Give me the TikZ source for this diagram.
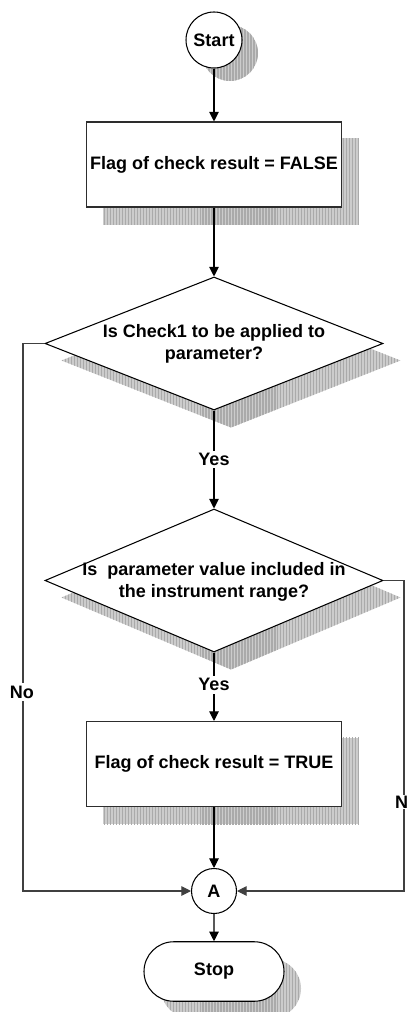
\documentclass[tikz,border=0pt]{standalone}
\usepackage{fontspec}
\setmainfont{Liberation Sans}
\usetikzlibrary{arrows.meta,shapes.geometric,shapes.misc,patterns.meta,backgrounds,calc}
\definecolor{shadebase}{RGB}{204,204,204}
\definecolor{shadeline}{RGB}{170,170,170}
\definecolor{edgegray}{RGB}{45,45,45}
\begin{document}
\begin{tikzpicture}[x=0.2mm, y=-0.2mm,
  font=\bfseries\fontsize{10.25pt}{12.5pt}\selectfont,
  stripes/.style={fill=shadebase, draw=none,
    postaction={pattern={Lines[angle=90,distance=1.7pt,line width=0.75pt]}, pattern color=shadeline}},
  procbox/.style={rectangle, draw=edgegray, line width=0.6pt, fill=white,
    minimum width=51mm, minimum height=17mm, inner sep=0pt},
  termcircle/.style={circle, draw=black, line width=0.6pt, fill=white,
    minimum size=11.2mm, inner sep=0pt},
  joincircle/.style={circle, draw=black, line width=0.6pt, fill=white,
    minimum size=9mm, inner sep=0pt},
  decision/.style={diamond, draw=black, line width=0.6pt, fill=white,
    minimum width=67.6mm, inner sep=0pt},
  terminal/.style={rounded rectangle, draw=black, line width=0.6pt, fill=white,
    minimum width=28mm, minimum height=11.9mm, inner sep=0pt},
  flow/.style={draw=black, line width=0.6pt, -{Triangle[length=5.5pt,width=5.5pt]}},
  loopline/.style={draw=black!75, line width=0.6pt, -{Triangle[length=5.5pt,width=5.5pt]}},
  branchlbl/.style={fill=white, inner sep=1.5pt},
  qtext/.style={align=center, inner sep=0pt},
]
\useasboundingbox (0,0) rectangle (406,1012);

% flowchart elements
\node[termcircle] (start) at (214,40) {Start};
\node[procbox] (b1) at (214,164.5) {Flag of check result = FALSE};
\node[decision, minimum height=26.6mm] (d1) at (214,343.5) {};
\node[qtext] (q1) at (214,344) {Is Check1 to be applied to\\parameter?};
\node[decision, minimum height=28.6mm] (d2) at (214,580.5) {};
\node[qtext] (q2) at (214,582) {Is\ \ parameter value included in\\the instrument range?};
\node[procbox] (b2) at (214,764) {Flag of check result = TRUE};
\node[joincircle] (A) at (214,891) {A};
\node[terminal] (stop) at (214,971.5) {Stop};

% striped drop shadows
\begin{pgfonlayer}{background}
  \path[stripes] ([shift={(16,13)}]start.center) circle[radius=5.6mm];
  \path[stripes] ([shift={(17,17)}]b1.north west) rectangle ([shift={(17,17)}]b1.south east);
  \path[stripes] ([shift={(17,17)}]d1.north) -- ([shift={(17,17)}]d1.east)
     -- ([shift={(17,17)}]d1.south) -- ([shift={(17,17)}]d1.west) -- cycle;
  \path[stripes] ([shift={(17,17)}]d2.north) -- ([shift={(17,17)}]d2.east)
     -- ([shift={(17,17)}]d2.south) -- ([shift={(17,17)}]d2.west) -- cycle;
  \path[stripes] ([shift={(17,17)}]b2.north west) rectangle ([shift={(17,17)}]b2.south east);
  \node[terminal, stripes] (stopshade) at ([shift={(17,17)}]stop.center) {};
\end{pgfonlayer}

% connectors
\draw[flow] (start) -- (b1);
\draw[flow] (b1) -- (d1);
\draw[flow] (d1) -- node[branchlbl] (yes1) {Yes} (d2);
\draw[flow] (d2) -- node[branchlbl, pos=0.47] (yes2) {Yes} (b2);
\draw[flow] (b2) -- (A);
\draw[flow] (A) -- (stop);
\coordinate (leftturn) at (23,343.5);
\coordinate (rightturn) at (404,580.5);
\draw[loopline] (d1.west) -- (leftturn) |- (A.west);
\draw[loopline] (d2.east) -- (rightturn) |- (A.east);
\node[branchlbl] (nolbl) at (22,692) {No};
\node[fill=white, inner sep=0.5pt, anchor=west] (nlbl) at (394,802) {N};
\end{tikzpicture}
\end{document}
